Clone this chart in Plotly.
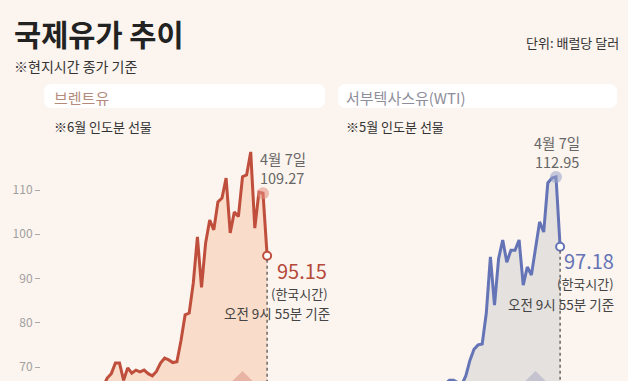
import plotly.graph_objects as go

# ---------------- data ----------------
dates = ["2026-02-09", "2026-02-10", "2026-02-11", "2026-02-12", "2026-02-13",
         "2026-02-17", "2026-02-18", "2026-02-19", "2026-02-20", "2026-02-23",
         "2026-02-24", "2026-02-25", "2026-02-26", "2026-02-27", "2026-03-02",
         "2026-03-03", "2026-03-04", "2026-03-05", "2026-03-06", "2026-03-09",
         "2026-03-10", "2026-03-11", "2026-03-12", "2026-03-13", "2026-03-16",
         "2026-03-17", "2026-03-18", "2026-03-19", "2026-03-20", "2026-03-23",
         "2026-03-24", "2026-03-25", "2026-03-26", "2026-03-27", "2026-03-30",
         "2026-03-31", "2026-04-01", "2026-04-02", "2026-04-03", "2026-04-06",
         "2026-04-07", "2026-04-08"]

brent = [63.0, 65.5, 67.5, 68.5, 70.9, 70.9, 67.0, 69.8, 68.6, 69.3,
         68.9, 69.3, 68.5, 68.0, 69.0, 70.9, 72.0, 71.6, 71.0, 71.2,
         76.0, 81.8, 82.2, 89.0, 99.4, 88.0, 98.0, 103.2, 101.0, 107.3,
         108.2, 112.7, 100.3, 105.0, 104.0, 113.0, 113.4, 118.6, 101.4, 109.5,
         109.27, 95.15]

wti = [62.5, 63.0, 63.8, 64.5, 65.2, 65.5, 64.0, 65.0, 64.5, 65.2,
       65.0, 65.5, 65.8, 66.2, 67.0, 67.0, 66.5, 66.0, 68.0, 71.5,
       74.0, 75.0, 75.2, 82.2, 94.9, 84.0, 94.5, 98.7, 93.7, 96.4,
       96.4, 98.7, 88.5, 92.6, 90.8, 97.1, 102.8, 100.5, 111.6, 112.7,
       112.95, 97.18]

y_ticks = [70, 80, 90, 100, 110]
peak_date = "2026-04-07"
peak_label = "4월 7일"
event_date = "2026-03-31"

# ---------------- style ----------------
W, H = 628, 381
BG = "#FCF4EE"
FONT = "Noto Sans CJK KR"
BRENT_LINE = "#BF4F3C"
BRENT_FILL = "#F9DCC9"
WTI_LINE = "#6474B6"
WTI_FILL = "#E5E1DF"

def px(x):
    return x / W

def py(y):
    return 1 - y / H

X_RANGE = [-14.15, 56.34]
Y_RANGE = [66.84, 121.3]
Y_DOM = [0, 241 / H]

fig = go.Figure()

peak_i = dates.index(peak_date)
last_i = len(dates) - 1
ev_i = dates.index(event_date)

for vals, line_c, fill_c, peak_c, xa, ya in [
    (brent, BRENT_LINE, BRENT_FILL, "rgba(228,140,128,0.55)", "x", "y"),
    (wti, WTI_LINE, WTI_FILL, "rgba(150,160,200,0.55)", "x2", "y2"),
]:
    fig.add_trace(go.Scatter(x=dates, y=vals, mode="lines", fill="tozeroy",
                             fillcolor=fill_c, line=dict(color=line_c, width=3),
                             xaxis=xa, yaxis=ya, hoverinfo="skip", showlegend=False))
    fig.add_trace(go.Scatter(x=[dates[peak_i]], y=[vals[peak_i]], mode="markers",
                             marker=dict(size=12, color=peak_c),
                             xaxis=xa, yaxis=ya, hoverinfo="skip", showlegend=False))
    fig.add_trace(go.Scatter(x=[dates[last_i]], y=[vals[last_i]], mode="markers",
                             marker=dict(size=8, color="white",
                                         line=dict(color=line_c, width=2)),
                             xaxis=xa, yaxis=ya, hoverinfo="skip", showlegend=False))

common_x = dict(type="category", range=X_RANGE, visible=False, fixedrange=True)
fig.update_layout(
    width=W, height=H, margin=dict(l=0, r=0, t=0, b=0),
    paper_bgcolor=BG, plot_bgcolor=BG,
    font=dict(family=FONT, color="#333"),
    xaxis=dict(domain=[px(41), px(330)], **common_x),
    xaxis2=dict(domain=[px(334), px(623)], **common_x),
    yaxis=dict(domain=Y_DOM, range=Y_RANGE, tickvals=y_ticks,
               ticktext=[str(v) for v in y_ticks], ticks="outside", ticklen=5,
               tickcolor="#AAAAAA", tickfont=dict(size=12, color="#A0A0A0"),
               showgrid=False, zeroline=False, showline=False, fixedrange=True),
    yaxis2=dict(domain=Y_DOM, range=Y_RANGE, visible=False, anchor="x2",
                fixedrange=True),
)

shapes = []
# header rounded boxes
def rbox(x0, y0, x1, y1, r=8):
    rx, ry = r / W, r / H
    X0, X1, Y0, Y1 = px(x0), px(x1), py(y1), py(y0)
    return (f"M {X0+rx},{Y1} L {X1-rx},{Y1} Q {X1},{Y1} {X1},{Y1-ry} "
            f"L {X1},{Y0+ry} Q {X1},{Y0} {X1-rx},{Y0} L {X0+rx},{Y0} "
            f"Q {X0},{Y0} {X0},{Y0+ry} L {X0},{Y1-ry} Q {X0},{Y1} {X0+rx},{Y1} Z")

for (a, b) in [(44, 325), (338, 617)]:
    shapes.append(dict(type="path", xref="paper", yref="paper",
                       path=rbox(a, 84, b, 108), fillcolor="white",
                       line=dict(width=0), layer="above"))

# dotted drop lines and event triangles
for vals, xa, ya, tri_c in [(brent, "x", "y", "#E8B4A4"), (wti, "x2", "y2", "#C6C3D0")]:
    shapes.append(dict(type="line", xref=xa, yref=ya, x0=last_i, x1=last_i,
                       y0=vals[last_i] - 0.9, y1=Y_RANGE[0],
                       line=dict(color="#555555", width=1.3, dash="dot"),
                       layer="above"))
    shapes.append(dict(type="path", xref=xa, yref=ya,
                       path=f"M {ev_i-5},{64.5} L {ev_i},{69.1} L {ev_i+5},{64.5} Z",
                       fillcolor=tri_c, line=dict(width=0), layer="above"))

fig.update_layout(shapes=shapes)

ann = []
def A(text, x, y, size, color, xanchor="left", xref="paper", yref="paper",
      xshift=0, yshift=0, weight=None):
    f = dict(family=FONT, size=size, color=color)
    if weight:
        f["weight"] = weight
    ann.append(dict(text=text, x=x, y=y, xref=xref, yref=yref, xanchor=xanchor,
                    yanchor="middle", showarrow=False, font=f,
                    xshift=xshift, yshift=yshift, borderpad=0))

A("국제유가 추이", px(13), py(33), 29.5, "#222222", weight=700)
A("※현지시간 종가 기준", px(13), py(66), 14, "#333333")
A("단위: 배럴당 달러", px(620), py(43), 13, "#333333", xanchor="right")
A("브렌트유", px(53), py(97), 15, "#B48A7C")
A("서부텍사스유(WTI)", px(345), py(97), 15, "#8E8E9A")
A("※6월 인도분 선물", px(53), py(127), 13, "#333333")
A("※5월 인도분 선물", px(345), py(127), 13, "#333333")

# Brent peak / end labels
A(peak_label, dates[peak_i], brent[peak_i], 14.5, "#666666", xref="x", yref="y",
  xshift=-4, yshift=35)
A(f"{brent[peak_i]:.2f}", dates[peak_i], brent[peak_i], 14.5, "#666666", xref="x",
  yref="y", xshift=-4, yshift=16)
A(f"{brent[last_i]:.2f}", dates[last_i], brent[last_i], 20, "#B5493A", xanchor="right",
  xref="x", yref="y", xshift=61, yshift=-15)
A("(한국시간)", dates[last_i], brent[last_i], 13, "#444444", xanchor="right",
  xref="x", yref="y", xshift=62, yshift=-38)
A("오전 9시 55분 기준", dates[last_i], brent[last_i], 13.5, "#444444", xanchor="right",
  xref="x", yref="y", xshift=64, yshift=-57)

# WTI peak / end labels
A(peak_label, dates[peak_i], wti[peak_i], 14.5, "#666666", xanchor="center",
  xref="x2", yref="y2", xshift=1, yshift=34)
A(f"{wti[peak_i]:.2f}", dates[peak_i], wti[peak_i], 14.5, "#666666", xanchor="center",
  xref="x2", yref="y2", xshift=1, yshift=15)
A(f"{wti[last_i]:.2f}", dates[last_i], wti[last_i], 20, WTI_LINE, xanchor="right",
  xref="x2", yref="y2", xshift=55, yshift=-14)
A("(한국시간)", dates[last_i], wti[last_i], 13, "#444444", xanchor="right",
  xref="x2", yref="y2", xshift=55, yshift=-37)
A("오전 9시 55분 기준", dates[last_i], wti[last_i], 13.5, "#444444", xanchor="right",
  xref="x2", yref="y2", xshift=55, yshift=-57)

fig.update_layout(annotations=ann)
fig.write_html("out.html")
